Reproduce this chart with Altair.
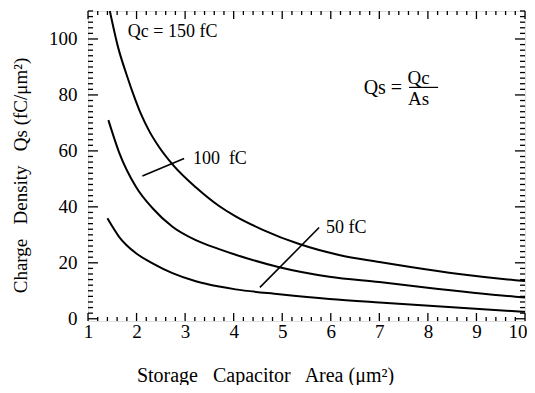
import altair as alt
import pandas as pd

# ---- data ----
x150 = [1.45, 1.62, 1.79, 1.97, 2.09, 2.27, 2.46, 2.74, 3.22, 3.70, 4.04, 4.60, 5.35, 6.17, 7.00, 7.61, 8.64, 9.80, 10.0]
y150 = [110, 97.0, 87.5, 78.5, 73.2, 66.8, 61.5, 55.2, 47.0, 40.3, 36.6, 31.8, 26.7, 22.8, 20.3, 18.6, 16.0, 13.8, 13.5]

x100 = [1.42, 1.64, 1.99, 2.33, 2.74, 3.22, 3.70, 4.04, 4.94, 5.97, 7.00, 7.95, 9.80, 10.0]
y100 = [71.0, 59.5, 47.1, 39.5, 32.9, 28.1, 24.9, 22.9, 18.4, 15.0, 13.1, 11.2, 7.9, 7.6]

x50 = [1.40, 1.64, 1.99, 2.33, 2.74, 3.22, 3.70, 4.04, 4.94, 5.97, 7.00, 7.95, 9.80, 10.0]
y50 = [35.9, 29.3, 23.4, 19.8, 16.3, 13.4, 11.5, 10.5, 8.8, 7.1, 5.8, 4.7, 2.7, 2.5]

x_labels = [1, 2, 3, 4, 5, 6, 7, 8, 9, 10]
y_labels = [0, 20, 40, 60, 80, 100]

# annotation texts
ann_text = ["Qc = 150 fC", "100\u00a0 fC", "50 fC"]
ann_x = [1.82, 3.16, 5.90]
ann_y = [102.4, 57.2, 32.6]

# leader lines
lead_x = [2.12, 4.54]
lead_y = [51.0, 11.2]
lead_x2 = [2.98, 5.76]
lead_y2 = [57.3, 32.6]

# formula Qs = Qc / As
lhs_text, lhs_x, lhs_y = ["Qs ="], [7.47], [82.5]
frac_text = ["Qc", "As"]
frac_x = [7.81, 7.81]
frac_y = [86.2, 78.4]
bar_x, bar_x2, bar_y = [7.61], [8.21], [82.7]

FONT = "Liberation Serif"
W, H = 437, 310

xs = alt.Scale(domain=[1, 10], nice=False, zero=False)
ys = alt.Scale(domain=[-0.8, 110], nice=False, zero=False)

AX_X = alt.Axis(
    values=x_labels, ticks=False, domain=False, grid=False,
    labelFont=FONT, labelFontSize=19, labelColor="black", labelPadding=1,
    labelFlush=False, labelOverlap=False, format="d",
    labelAlign={"condition": {"test": "datum.value == 10", "value": "right"}, "value": "center"},
    labelOffset={"condition": {"test": "datum.value == 10", "value": 2}, "value": 0},
    title="Storage\u00a0\u00a0 Capacitor\u00a0\u00a0 Area (\u03bcm\u00b2)",
    titleFont=FONT, titleFontSize=20, titleFontWeight="normal", titleColor="black",
    titleX=177, titleY=60, titleAlign="center", titleBaseline="alphabetic",
)
AX_Y = alt.Axis(
    values=y_labels, ticks=False, domain=False, grid=False,
    labelFont=FONT, labelFontSize=19, labelColor="black", labelPadding=11,
    labelOverlap=False, labelFlush=False, format="d",
    title="Charge\u00a0\u00a0 Density\u00a0\u00a0 Qs (fC/\u03bcm\u00b2)",
    titleFont=FONT, titleFontSize=19, titleFontWeight="normal", titleColor="black",
    titleX=-62, titleY=164, titleAngle=-90, titleAlign="center", titleBaseline="alphabetic",
)

curves = pd.DataFrame({
    "x": x150 + x100 + x50,
    "y": y150 + y100 + y50,
    "series": ["150"] * len(x150) + ["100"] * len(x100) + ["50"] * len(x50),
})

lines = alt.Chart(curves).mark_line(
    color="black", strokeWidth=2, interpolate="monotone", clip=True
).encode(
    x=alt.X("x:Q", scale=xs, axis=AX_X),
    y=alt.Y("y:Q", scale=ys, axis=AX_Y),
    detail="series:N",
)

# ---- tick marks (inward, on all four sides) ----
y_major = list(range(0, 101, 20))
y_minor = [v for v in range(0, 111, 2) if v % 20 != 0]
x_major = list(range(1, 11))
x_minor = [round(1 + i * 0.2, 2) for i in range(46) if i % 5 != 0]


def yticks(vals, length):
    df = pd.DataFrame({"y": vals})
    left = alt.Chart(df).mark_rule(color="black", strokeWidth=1.3).encode(
        y=alt.Y("y:Q", scale=ys, axis=AX_Y), x=alt.value(0), x2=alt.value(length))
    right = alt.Chart(df).mark_rule(color="black", strokeWidth=1.3).encode(
        y=alt.Y("y:Q", scale=ys, axis=AX_Y), x=alt.value(W), x2=alt.value(W - length))
    return [left, right]


def xticks(vals, length):
    df = pd.DataFrame({"x": vals})
    bottom = alt.Chart(df).mark_rule(color="black", strokeWidth=1.3).encode(
        x=alt.X("x:Q", scale=xs, axis=AX_X), y=alt.value(H), y2=alt.value(H - length))
    top = alt.Chart(df).mark_rule(color="black", strokeWidth=1.3).encode(
        x=alt.X("x:Q", scale=xs, axis=AX_X), y=alt.value(0), y2=alt.value(length))
    return [bottom, top]


tick_layers = yticks(y_major, 10) + yticks(y_minor, 5) + xticks(x_major, 8) + xticks(x_minor, 4)

# ---- annotations ----
ann = alt.Chart(pd.DataFrame({"x": ann_x, "y": ann_y, "t": ann_text})).mark_text(
    font=FONT, fontSize=18, color="black", align="left", baseline="middle"
).encode(x=alt.X("x:Q", scale=xs, axis=AX_X), y=alt.Y("y:Q", scale=ys, axis=AX_Y), text="t:N")

leads = alt.Chart(pd.DataFrame({"x": lead_x, "y": lead_y, "x2": lead_x2, "y2": lead_y2})).mark_rule(
    color="black", strokeWidth=1.6
).encode(x=alt.X("x:Q", scale=xs, axis=AX_X), y=alt.Y("y:Q", scale=ys, axis=AX_Y), x2="x2:Q", y2="y2:Q")

lhs = alt.Chart(pd.DataFrame({"x": lhs_x, "y": lhs_y, "t": lhs_text})).mark_text(
    font=FONT, fontSize=20, color="black", align="right", baseline="middle"
).encode(x=alt.X("x:Q", scale=xs, axis=AX_X), y=alt.Y("y:Q", scale=ys, axis=AX_Y), text="t:N")

frac = alt.Chart(pd.DataFrame({"x": frac_x, "y": frac_y, "t": frac_text})).mark_text(
    font=FONT, fontSize=19, color="black", align="center", baseline="middle"
).encode(x=alt.X("x:Q", scale=xs, axis=AX_X), y=alt.Y("y:Q", scale=ys, axis=AX_Y), text="t:N")

bar = alt.Chart(pd.DataFrame({"x": bar_x, "x2": bar_x2, "y": bar_y})).mark_rule(
    color="black", strokeWidth=1.2
).encode(x=alt.X("x:Q", scale=xs, axis=AX_X), x2="x2:Q", y=alt.Y("y:Q", scale=ys, axis=AX_Y))

chart = alt.layer(lines, *tick_layers, leads, ann, lhs, frac, bar).properties(
    width=W, height=H,
    autosize=alt.AutoSizeParams(type="none"),
    padding={"left": 80, "top": 3, "right": 2, "bottom": 64},
).configure_view(
    stroke="black", strokeWidth=2, fill="white"
).configure(background="white")

chart.save("out.html", embed_options={"renderer": "svg", "actions": False})
